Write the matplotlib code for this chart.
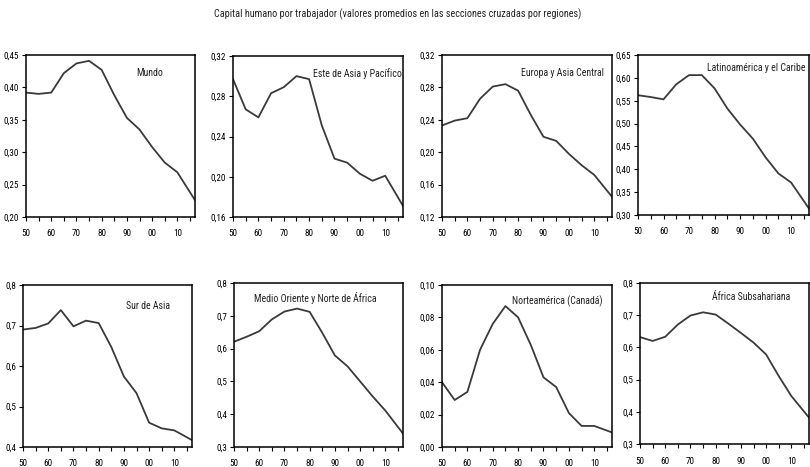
import matplotlib
matplotlib.use("Agg")
import matplotlib.pyplot as plt
from matplotlib.ticker import FixedLocator, FuncFormatter
from matplotlib import font_manager

names = {f.name for f in font_manager.fontManager.ttflist}
prefs = ['Liberation Sans Narrow', 'Arial Narrow', 'Roboto Condensed', 'PT Sans Narrow',
         'Archivo Narrow', 'Barlow Semi Condensed', 'Liberation Sans']
FAM = [p for p in prefs if p in names][:1] + ['DejaVu Sans']
plt.rcParams['font.family'] = FAM

years = [1950, 1955, 1960, 1965, 1970, 1975, 1980, 1985, 1990, 1995, 2000, 2005, 2010, 2017]

mundo = [0.392, 0.390, 0.392, 0.422, 0.437, 0.441, 0.427, 0.388, 0.353, 0.335, 0.308, 0.284, 0.269, 0.226]
este_asia = [0.297, 0.267, 0.259, 0.283, 0.289, 0.300, 0.297, 0.251, 0.218, 0.214, 0.203, 0.196, 0.201, 0.171]
europa = [0.233, 0.239, 0.242, 0.266, 0.281, 0.284, 0.276, 0.246, 0.219, 0.214, 0.198, 0.184, 0.172, 0.145]
latino = [0.562, 0.558, 0.553, 0.586, 0.606, 0.606, 0.577, 0.533, 0.498, 0.467, 0.426, 0.391, 0.371, 0.314]
sur_asia = [0.690, 0.694, 0.705, 0.738, 0.698, 0.712, 0.706, 0.647, 0.574, 0.533, 0.460, 0.446, 0.441, 0.417]
medio_oriente = [0.621, 0.636, 0.653, 0.689, 0.713, 0.722, 0.712, 0.648, 0.579, 0.546, 0.500, 0.454, 0.411, 0.341]
norteamerica = [0.040, 0.029, 0.034, 0.060, 0.076, 0.087, 0.080, 0.063, 0.043, 0.037, 0.021, 0.013, 0.013, 0.009]
africa = [0.632, 0.620, 0.633, 0.671, 0.699, 0.709, 0.702, 0.674, 0.645, 0.615, 0.578, 0.511, 0.449, 0.382]

titles = ["Mundo", "Este de Asia y Pacífico", "Europa y Asia Central", "Latinoamérica y el Caribe",
          "Sur de Asia", "Medio Oriente y Norte de África", "Norteamérica (Canadá)", "África Subsahariana"]
series = [mundo, este_asia, europa, latino, sur_asia, medio_oriente, norteamerica, africa]
yticks = [
    [0.20, 0.25, 0.30, 0.35, 0.40, 0.45],
    [0.16, 0.20, 0.24, 0.28, 0.32],
    [0.12, 0.16, 0.20, 0.24, 0.28, 0.32],
    [0.30, 0.35, 0.40, 0.45, 0.50, 0.55, 0.60, 0.65],
    [0.4, 0.5, 0.6, 0.7, 0.8],
    [0.3, 0.4, 0.5, 0.6, 0.7, 0.8],
    [0.00, 0.02, 0.04, 0.06, 0.08, 0.10],
    [0.3, 0.4, 0.5, 0.6, 0.7, 0.8],
]
ydec = [2, 2, 2, 2, 1, 1, 2, 1]
xlabels_years = [1950, 1960, 1970, 1980, 1990, 2000, 2010]
xlabels = ["50", "60", "70", "80", "90", "00", "10"]

W, H = 810, 467
fig = plt.figure(figsize=(W / 100, H / 100), dpi=100)

# pixel boxes (left, right, top, bottom)
boxes = [
    (26, 195, 55, 217), (233, 403, 56, 217), (442, 612, 55, 217), (638, 809, 55, 215),
    (23, 192, 285, 447), (234, 403, 283, 447), (442, 612, 285, 447), (640, 809, 283, 444),
]
label_pos = [(0.73, 0.89), (0.73, 0.89), (0.71, 0.89), (0.69, 0.92),
             (0.74, 0.87), (0.48, 0.91), (0.68, 0.90), (0.66, 0.91)]

for i, (l, r, t, b) in enumerate(boxes):
    ax = fig.add_axes([l / W, 1 - b / H, (r - l) / W, (b - t) / H])
    ax.plot(years, series[i], color='#3a3a3a', lw=1.3)
    ax.set_xlim(1950, 2017)
    ax.set_ylim(yticks[i][0], yticks[i][-1])
    ax.xaxis.set_major_locator(FixedLocator(xlabels_years))
    ax.set_xticklabels(xlabels)
    ax.xaxis.set_minor_locator(FixedLocator([1955, 1965, 1975, 1985, 1995, 2005, 2015]))
    ax.yaxis.set_major_locator(FixedLocator(yticks[i]))
    d = ydec[i]
    ax.yaxis.set_major_formatter(FuncFormatter(lambda v, p, d=d: f"{v:.{d}f}".replace('.', ',')))
    ax.tick_params(axis='both', which='both', direction='out', length=3, width=0.8, labelsize=6.6, pad=2)
    ax.tick_params(axis='x', which='major', pad=6)
    for s in ax.spines.values():
        s.set_linewidth(1.1)
    ax.text(label_pos[i][0], label_pos[i][1], titles[i], transform=ax.transAxes,
            ha='center', va='center', fontsize=7.1, color='#222222')

fig.text(398 / W, 1 - 14 / H, "Capital humano por trabajador (valores promedios en las secciones cruzadas por regiones)",
         ha='center', va='center', fontsize=7.3, color='#222222')

fig.savefig("out.png", dpi=100)
